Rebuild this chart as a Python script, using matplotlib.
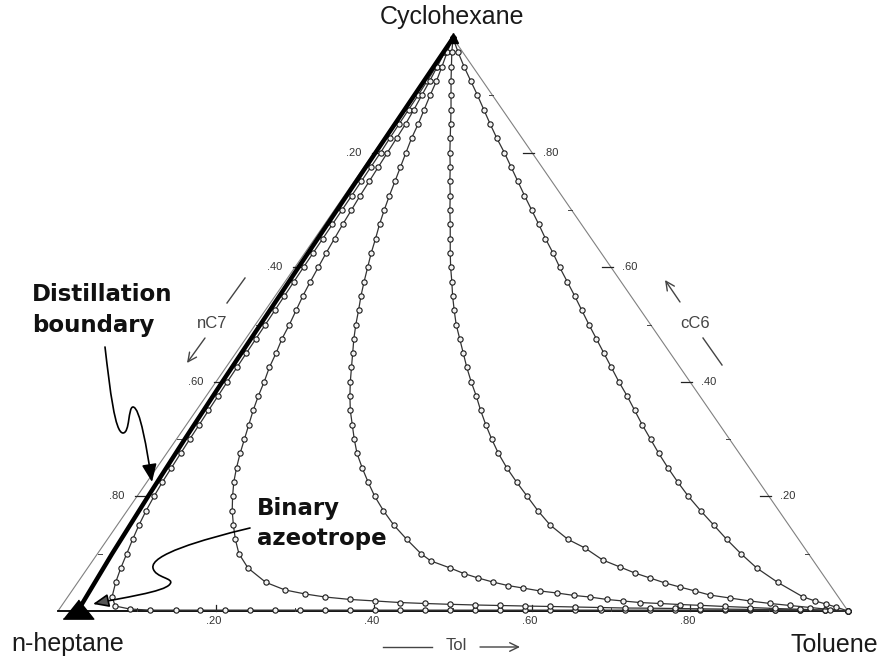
import matplotlib.pyplot as plt
from matplotlib.path import Path
from matplotlib.patches import FancyArrowPatch
from matplotlib.transforms import Affine2D

plt.rcParams['font.family'] = ['Liberation Sans', 'DejaVu Sans']

# compositions, mole fractions of toluene and cyclohexane
# (n-heptane is the rest)
cc6_grid = [1.0, 0.975, 0.95, 0.925, 0.9, 0.875, 0.85, 0.825, 0.8, 0.775,
            0.75, 0.725, 0.7, 0.675, 0.65, 0.625, 0.6, 0.575, 0.55, 0.525,
            0.5, 0.475, 0.45, 0.425, 0.4, 0.375, 0.35, 0.325, 0.3, 0.275,
            0.25, 0.225, 0.2, 0.175, 0.15, 0.125, 0.1, 0.075, 0.05, 0.025]

# distillation boundary, from cyclohexane to the binary azeotrope
bnd_tol = [0.0, 0.002, 0.0045, 0.008, 0.0105, 0.014, 0.0185, 0.025]
bnd_cc6 = [1.0, 0.8, 0.6, 0.4, 0.3, 0.2, 0.1, 0.0]
azeo_tol = 0.025

base_tol = [0.116, 0.148, 0.179, 0.211, 0.242, 0.274, 0.306, 0.337, 0.369,
            0.401, 0.432, 0.464, 0.496, 0.527, 0.559, 0.590, 0.622, 0.654,
            0.686, 0.717, 0.749, 0.780, 0.812, 0.844, 0.875, 0.907, 0.939,
            0.970]

# residue curve hugging the boundary
c0_tol = [0.0, 0.002, 0.0035, 0.0048, 0.0058, 0.0063, 0.0068, 0.0074, 0.0083,
          0.0086, 0.0090, 0.0093, 0.0096, 0.0099, 0.0102, 0.0105, 0.0108,
          0.0112, 0.0117, 0.0121, 0.0126, 0.0130, 0.0134, 0.0139, 0.0143,
          0.0149, 0.0155, 0.0162, 0.0168, 0.0177, 0.0186, 0.0196, 0.0215,
          0.024, 0.0275, 0.032, 0.037, 0.042, 0.048, 0.056,
          0.068, 0.089] + base_tol + [1.0]
c0_cc6 = cc6_grid + [0.0087, 0.0035] + [0.0015] * len(base_tol) + [0.0]

c1_tol = [0.0, 0.002, 0.005, 0.008, 0.0105, 0.013, 0.015, 0.016, 0.017, 0.018,
          0.019, 0.020, 0.0215, 0.023, 0.025, 0.027, 0.0295, 0.032, 0.035,
          0.039, 0.043, 0.046, 0.051, 0.055, 0.061, 0.066, 0.072, 0.079, 0.086,
          0.093, 0.101, 0.110, 0.121, 0.133, 0.147, 0.162, 0.179, 0.203, 0.238,
          0.269, 0.298, 0.326, 0.360, 0.393, 0.425, 0.458, 0.490, 0.523, 0.555,
          0.587, 0.619, 0.651, 0.683, 0.715, 0.747, 0.779, 0.811, 0.843, 0.875,
          0.906, 0.938, 0.970, 1.0]
c1_cc6 = cc6_grid[:39] + [0.0367, 0.0297, 0.0244, 0.0201, 0.0175, 0.0148,
                          0.0131, 0.0117, 0.0105, 0.0096, 0.0087, 0.0079,
                          0.0070, 0.0061, 0.0052, 0.0049, 0.0044, 0.0038,
                          0.0033, 0.0028, 0.0023, 0.0017, 0.0009, 0.0]

c2_tol = [0.0, 0.005, 0.011, 0.0166, 0.021, 0.026, 0.031, 0.035, 0.0405, 0.046,
          0.0516, 0.057, 0.063, 0.0695, 0.077, 0.084, 0.092, 0.100, 0.1085,
          0.118, 0.127, 0.137, 0.148, 0.159, 0.170, 0.182, 0.195, 0.210, 0.225,
          0.241, 0.260, 0.280, 0.301, 0.3245, 0.350, 0.379, 0.4095,
          0.428, 0.459, 0.481, 0.503, 0.525, 0.547, 0.5685, 0.593, 0.616,
          0.640, 0.661, 0.685, 0.7065, 0.729, 0.755, 0.782, 0.808, 0.840,
          0.873, 0.905, 0.938, 0.970, 1.0]
c2_cc6 = cc6_grid[:37] + [0.0875, 0.075, 0.0654, 0.0576, 0.0506, 0.0445,
                          0.0401, 0.0349, 0.0314, 0.0271, 0.0244, 0.0201,
                          0.0175, 0.0148, 0.0131, 0.0113, 0.0099, 0.0079,
                          0.0061, 0.0044, 0.0030, 0.0014, 0.0]

c3_tol = [0.0, 0.011, 0.023, 0.035, 0.0475, 0.060, 0.072, 0.084, 0.096, 0.109,
          0.121, 0.134, 0.146, 0.159, 0.1715, 0.184, 0.197, 0.211, 0.2245,
          0.239, 0.254, 0.271, 0.288, 0.305, 0.323, 0.342, 0.360, 0.379, 0.399,
          0.420, 0.443, 0.468, 0.494, 0.520, 0.548, 0.583,
          0.612, 0.645, 0.673, 0.697, 0.7205, 0.744, 0.766, 0.789, 0.811,
          0.839, 0.867, 0.895, 0.922, 0.949, 0.976, 1.0]
c3_cc6 = cc6_grid[:36] + [0.110, 0.089, 0.0768, 0.0663, 0.0576, 0.0489,
                          0.0419, 0.0349, 0.0279, 0.0227, 0.0175, 0.0131,
                          0.0096, 0.0061, 0.0026, 0.0]

c4_tol = [0.0, 0.019, 0.039, 0.060, 0.081, 0.1015, 0.122, 0.143, 0.165, 0.186,
          0.207, 0.228, 0.2495, 0.271, 0.292, 0.314, 0.335, 0.357, 0.379,
          0.4005, 0.422, 0.444, 0.466, 0.488, 0.510, 0.533, 0.555, 0.577,
          0.600, 0.623, 0.647, 0.672, 0.698, 0.726, 0.755, 0.784, 0.8145,
          0.847, 0.886, 0.930, 0.9495, 0.966, 0.981, 1.0]
c4_cc6 = cc6_grid + [0.0175, 0.0122, 0.007, 0.0]

ticks = [0.2, 0.4, 0.6, 0.8]
tick_labels = ['.20', '.40', '.60', '.80']
minor_ticks = [0.1, 0.3, 0.5, 0.7, 0.9]


def to_xy(tol, cc6):
    return [t + c / 2 for t, c in zip(tol, cc6)], list(cc6)


fig = plt.figure(figsize=(8.82, 6.6), dpi=100)
ax = fig.add_axes([0, 0, 1, 1])
ax.set_xlim(-58 / 790, 824 / 790)
ax.set_ylim(-49 / 573, 611 / 573)
ax.axis('off')

# picture pixels (y down), used for the hand drawn notes
pix = Affine2D().scale(1 / 882, -1 / 660).translate(0, 1) + fig.transFigure
px, py = 1 / 790, 1 / 573

# triangle
ax.plot([0, 0.5, 1], [0, 1, 0], color='#808080', lw=0.8, zorder=1)
ax.plot([0, 1], [0, 0], color='black', lw=1.3, zorder=1)

tk = dict(color='#222222', lw=0.9, zorder=2)
lk = dict(ha='center', va='center', fontsize=8, color='#333333')
for v, lab in zip(ticks, tick_labels):
    x0, y0 = (1 - v) / 2, 1 - v
    ax.plot([x0 - 2 * px, x0 + 9 * px], [y0, y0], **tk)
    ax.text(x0 - 20 * px, y0, lab, **lk)
    x0, y0 = 1 - v / 2, v
    ax.plot([x0 - 9 * px, x0 + 2 * px], [y0, y0], **tk)
    ax.text(x0 + 19 * px, y0, lab, **lk)
    ax.plot([v, v], [0, 6 * py], **tk)
    ax.text(v - 2 * px, -10 * py, lab, **lk)
for v in minor_ticks:
    x0, y0 = (1 - v) / 2, 1 - v
    ax.plot([x0, x0 + 4 * px], [y0, y0], color='#444444', lw=0.7)
    x0, y0 = 1 - v / 2, v
    ax.plot([x0 - 4 * px, x0], [y0, y0], color='#444444', lw=0.7)
    ax.plot([v, v], [0, 3 * py], color='#444444', lw=0.7)

# residue curves
curves = [(c0_tol, c0_cc6), (c1_tol, c1_cc6), (c2_tol, c2_cc6),
          (c3_tol, c3_cc6), (c4_tol, c4_cc6)]
for tol, cc6 in curves:
    x, y = to_xy(tol, cc6)
    ax.plot(x, y, color='#333333', lw=0.9, marker='o', ms=3.8,
            mfc='#f2f2f2', mec='#1a1a1a', mew=0.8, zorder=3)

x, y = to_xy(bnd_tol, bnd_cc6)
ax.plot(x, y, color='black', lw=3.2, zorder=4)
ax.plot([azeo_tol], [0], marker=[(-1.6, -0.8), (1.6, -0.8), (0, 1.2)],
        ms=22, color='black', zorder=5)
ax.plot([0.5], [1.0], marker='^', ms=7, color='black', zorder=5)

# vertex names
ax.text(452, 24, 'Cyclohexane', transform=pix, ha='center', va='baseline',
        fontsize=18, color='#1a1a1a')
ax.text(68, 651, 'n-heptane', transform=pix, ha='center', va='baseline',
        fontsize=18, color='#1a1a1a')
ax.text(834, 652, 'Toluene', transform=pix, ha='center', va='baseline',
        fontsize=18, color='#1a1a1a')

# axis names with their arrows
sk = dict(color='#444444', lw=1.0)
ak = dict(arrowstyle='->,head_length=0.45,head_width=0.22', mutation_scale=14,
          transform=pix, color='#444444', lw=1.0, shrinkA=0, shrinkB=0)
ax.plot([245, 227], [278, 303], transform=pix, **sk)
ax.text(212, 323, 'nC7', transform=pix, ha='center', va='center',
        fontsize=12, color='#444444')
ax.add_patch(FancyArrowPatch((205, 338), (187, 363), **ak))

ax.add_patch(FancyArrowPatch((680, 302), (665, 280), **ak))
ax.text(695, 323, 'cC6', transform=pix, ha='center', va='center',
        fontsize=12, color='#444444')
ax.plot([703, 722], [338, 365], transform=pix, **sk)

ax.plot([383, 432], [647, 647], transform=pix, **sk)
ax.text(456, 646, 'Tol', transform=pix, ha='center', va='center',
        fontsize=12, color='#444444')
ax.add_patch(FancyArrowPatch((480, 647), (520, 647), **ak))

# notes
bk = dict(transform=pix, ha='left', va='baseline', fontsize=16.5,
          fontweight='bold', family='DejaVu Sans', color='#111111')
ax.text(32, 301, 'Distillation', **bk)
ax.text(32, 332, 'boundary', **bk)
ax.text(257, 515, 'Binary', **bk)
ax.text(257, 545, 'azeotrope', **bk)

curl = Path([(105, 347), (110, 390), (115, 433), (123, 433),
             (130, 433), (128, 407), (133, 407),
             (140, 407), (147, 450), (152, 482)],
            [Path.MOVETO] + [Path.CURVE4] * 9)
ax.add_patch(FancyArrowPatch(path=curl, transform=pix, color='black', lw=1.2,
                             arrowstyle='-|>,head_length=0.6,head_width=0.25',
                             mutation_scale=18, zorder=6))
curl = Path([(250, 528), (200, 540), (150, 555), (153, 568),
             (155, 578), (175, 578), (170, 584),
             (165, 592), (120, 598), (93, 604)],
            [Path.MOVETO] + [Path.CURVE4] * 9)
ax.add_patch(FancyArrowPatch(path=curl, transform=pix, fc='#555555', ec='black',
                             lw=1.2, arrowstyle='-|>,head_length=0.6,head_width=0.25',
                             mutation_scale=16, zorder=6))

fig.savefig('out.png', dpi=100, facecolor='white')
